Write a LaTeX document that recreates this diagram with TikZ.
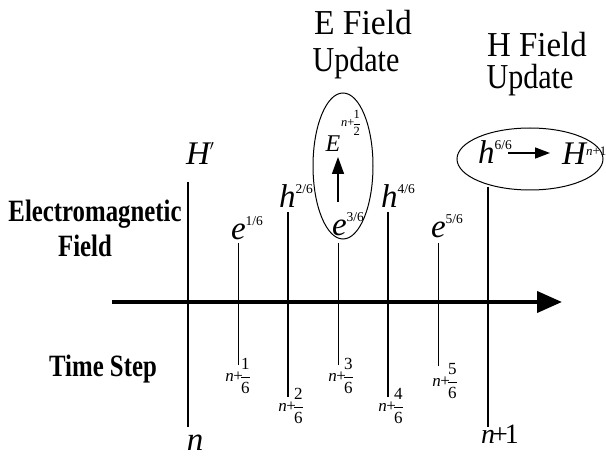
\documentclass[tikz,border=0pt]{standalone}
\usepackage{fontspec}
\usepackage{amsmath}
\usepackage{graphicx}
\setmainfont{Liberation Serif}
\usetikzlibrary{arrows.meta,shapes.geometric}

\newcommand\upidx[1]{\raisebox{0.45em}{\fontsize{13.5}{13.5}\selectfont\upshape #1}}
\newcommand\stepfrac[1]{\textit{n}\kern-0.5pt+\kern-3pt$\dfrac{\text{#1}}{\text{6}}$}
\newcommand\squeeze[2][0.8]{\scalebox{#1}[1]{#2}}

\tikzset{
  fld/.style={font=\fontsize{33}{33}\selectfont\itshape, inner sep=0pt},
  frc/.style={font=\fontsize{17}{17}\selectfont, inner sep=0pt},
  ttl/.style={font=\rmfamily\fontsize{35}{35}\selectfont, inner sep=0pt},
  side/.style={font=\rmfamily\fontsize{31}{31}\selectfont\bfseries, inner sep=0pt},
  htick/.style={line width=2pt},
  etick/.style={line width=1pt}
}

\begin{document}
\begin{tikzpicture}[x=1pt,y=-1pt,>=Triangle]
\useasboundingbox (0,0) rectangle (606,457);
% headings
\node[ttl,anchor=base] (etop) at (363,35) {\squeeze[0.96]{E Field}};
\node[ttl,anchor=base] (eupd) at (356,72) {\squeeze[0.86]{Update}};
\node[ttl,anchor=base] (htop) at (537,57) {\squeeze[0.94]{H Field}};
\node[ttl,anchor=base] (hupd) at (530,89) {\squeeze[0.86]{Update}};
\node[side,anchor=base] (emf) at (95,222) {\squeeze{Electromagnetic}};
\node[side,anchor=base] (emf2) at (85,257) {\squeeze{Field}};
\node[side,anchor=base] (tstep) at (103,377) {\squeeze{Time Step}};
% field labels
\node[fld,anchor=base] (Hn) at (200,165) {H\upidx{$\prime$}};
\node[fld,anchor=base] (e1) at (247,240) {e\upidx{1/6}};
\node[fld,anchor=base] (h2) at (296,208) {h\upidx{2/6}};
\node[fld,anchor=base] (e3) at (348,236) {e\upidx{3/6}};
\node[fld,anchor=base] (h4) at (398,208) {h\upidx{4/6}};
\node[fld,anchor=base] (e5) at (447,238) {e\upidx{5/6}};
\node[fld,anchor=base west] (h6) at (478,164) {h\upidx{6/6}};
\node[fld,anchor=base west] (Hn1) at (562,165) {H\raisebox{0.3em}{\fontsize{13}{13}\selectfont\upshape\textit{n}+1}};
\node[fld,anchor=base,font=\fontsize{24}{24}\selectfont\itshape] (Ehalf) at (333,152) {E};
\node[frc,anchor=base west,font=\fontsize{12.5}{12.5}\selectfont] (Esup) at (341,127) {\textit{n}+\kern-2pt$\dfrac{\text{1}}{\text{2}}$};
% time labels
\node[fld,anchor=base] (tn) at (195,450) {n};
\node[frc] (t1) at (238,376) {\stepfrac{1}};
\node[frc] (t2) at (291,406) {\stepfrac{2}};
\node[frc] (t3) at (341,376) {\stepfrac{3}};
\node[frc] (t4) at (391,406) {\stepfrac{4}};
\node[frc] (t5) at (445,381) {\stepfrac{5}};
\node[fld,anchor=base west,font=\fontsize{28}{28}\selectfont] (tn1) at (481,444) {\textit{n}\kern-3pt+\kern-3pt1};
% tick ends
\coordinate (top0) at (188,182); \coordinate (bot0) at (188,427);
\coordinate (top1) at (238,243); \coordinate (bot1) at (238,365);
\coordinate (top2) at (288,212); \coordinate (bot2) at (288,397);
\coordinate (top3) at (338,243); \coordinate (bot3) at (338,365);
\coordinate (top4) at (388,212); \coordinate (bot4) at (388,397);
\coordinate (top5) at (438,243); \coordinate (bot5) at (438,366);
\coordinate (top6) at (488,187); \coordinate (bot6) at (488,427);
\draw[htick] (top0) -- (bot0);
\draw[etick] (top1) -- (bot1);
\draw[htick] (top2) -- (bot2);
\draw[etick] (top3) -- (bot3);
\draw[htick] (top4) -- (bot4);
\draw[etick] (top5) -- (bot5);
\draw[htick] (top6) -- (bot6);
% time axis
\coordinate (axstart) at (112,302);
\coordinate (axend) at (562,302);
\draw[line width=4pt,-{Triangle[length=25pt,width=21pt]}] (axstart) -- (axend);
% update ellipses
\node[draw,line width=1pt,ellipse,inner sep=0pt,minimum width=60pt,minimum height=146pt] (eell) at (343,166) {};
\node[draw,line width=1pt,ellipse,inner sep=0pt,minimum width=146pt,minimum height=62pt] (hell) at (530,159) {};
\coordinate (uptail) at (338,202); \coordinate (uphead) at (338,157);
\draw[line width=1.5pt,-{Triangle[length=17pt,width=12pt]}] (uptail) -- (uphead);
\coordinate (rtail) at (508,153); \coordinate (rhead) at (550,153);
\draw[line width=1.5pt,-{Triangle[length=15pt,width=11pt]}] (rtail) -- (rhead);
\end{tikzpicture}
\end{document}
